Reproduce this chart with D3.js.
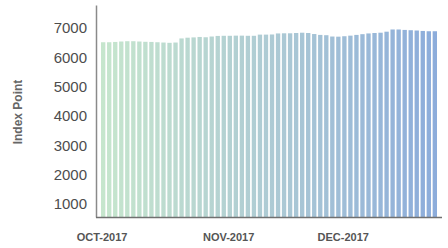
<!DOCTYPE html>
<html>
<head>
  <meta charset="UTF-8">
  <script src="https://d3js.org/d3.v7.min.js"></script>
  <style>
    * { margin: 0; padding: 0; }
    body { background: #fff; width: 448px; height: 248px; overflow: hidden; font-family: 'Liberation Sans', Arial, sans-serif; }
    .ytick text { font-size: 15px; fill: #4d4d4d; }
    .xlab { font-size: 11px; font-weight: bold; fill: #555; }
    .ylab { font-size: 12px; font-weight: bold; fill: #666; }
  </style>
</head>
<body>
  <div id="chart"></div>
  <script>
    // daily index values, Oct - Dec 2017
    const values = [
      6520, 6520, 6530, 6545, 6555, 6555, 6545, 6535, 6530, 6520,
      6510, 6500, 6510, 6650, 6675, 6685, 6700, 6690, 6715, 6735,
      6740, 6740, 6745, 6745, 6740, 6740, 6780, 6780, 6785, 6820,
      6825, 6825, 6835, 6845, 6835, 6800, 6770, 6760, 6715, 6710,
      6725, 6745, 6770, 6795, 6820, 6835, 6845, 6880, 6955, 6955,
      6940, 6930, 6920, 6905, 6895, 6895
    ];
    const yTicks = [1000, 2000, 3000, 4000, 5000, 6000, 7000];
    const monthLabels = ['OCT-2017', 'NOV-2017', 'DEC-2017'];
    const monthStart = [0, 21, 40];

    const width = 448, height = 248;
    const svg = d3.select('#chart').append('svg')
      .attr('width', width)
      .attr('height', height);

    const x = d3.scaleBand()
      .domain(d3.range(values.length))
      .range([101, 437])
      .paddingInner(0.28)
      .paddingOuter(0);

    const y = d3.scaleLinear()
      .domain([560, 7790])
      .range([217, 5]);

    // gradient across the plot, green to blue
    const grad = svg.append('defs').append('linearGradient')
      .attr('id', 'barGrad')
      .attr('gradientUnits', 'userSpaceOnUse')
      .attr('x1', 101).attr('x2', 437)
      .attr('y1', 0).attr('y2', 0);
    grad.append('stop').attr('offset', '0%').attr('stop-color', '#c6e6cd');
    grad.append('stop').attr('offset', '50%').attr('stop-color', '#aecbd4');
    grad.append('stop').attr('offset', '100%').attr('stop-color', '#8cacdb');

    svg.append('g')
      .selectAll('rect')
      .data(values)
      .enter().append('rect')
      .attr('x', (d, i) => x(i))
      .attr('width', x.bandwidth())
      .attr('y', d => y(d))
      .attr('height', d => y.range()[0] - y(d))
      .attr('fill', 'url(#barGrad)');

    // y axis
    const yAxis = svg.append('g')
      .attr('transform', 'translate(96,0)')
      .call(d3.axisLeft(y).tickValues(yTicks).tickSize(0).tickPadding(9).tickFormat(d3.format('d')));
    yAxis.select('.domain').attr('stroke', '#8a8a8a').attr('stroke-width', 1.5);
    yAxis.selectAll('.tick').attr('class', 'tick ytick');
    yAxis.selectAll('text').style('font-family', null).style('font-size', null);
    yAxis.attr('font-family', null).attr('font-size', null);

    // x axis line
    svg.append('line')
      .attr('x1', 96).attr('x2', 442)
      .attr('y1', 217.5).attr('y2', 217.5)
      .attr('stroke', '#707070')
      .attr('stroke-width', 1.5);

    svg.append('g')
      .selectAll('text')
      .data(monthLabels)
      .enter().append('text')
      .attr('class', 'xlab')
      .attr('x', (d, i) => x(monthStart[i]) + 1)
      .attr('y', 240.5)
      .attr('text-anchor', 'middle')
      .text(d => d);

    svg.append('text')
      .attr('class', 'ylab')
      .attr('transform', 'translate(22,112) rotate(-90)')
      .attr('text-anchor', 'middle')
      .text('Index Point');
  </script>
</body>
</html>
